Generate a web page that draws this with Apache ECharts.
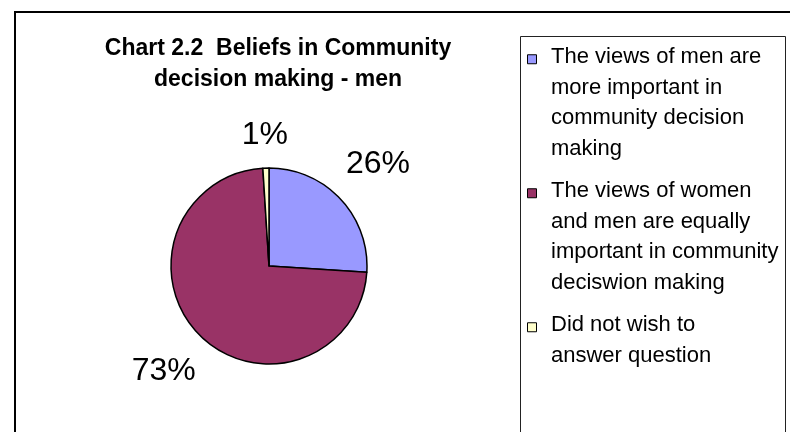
<!DOCTYPE html>
<html><head><meta charset="utf-8">
<script src="https://cdn.jsdelivr.net/npm/echarts@6/dist/echarts.min.js"></script>
<style>html,body{margin:0;padding:0;background:#fff}#c{width:790px;height:432px}</style>
</head><body><div id="c"></div>
<script>
const titleLines = ['Chart 2.2  Beliefs in Community', 'decision making - men'];
const categories = [
  'The views of men are\nmore important in\ncommunity decision\nmaking',
  'The views of women\nand men are equally\nimportant in community\ndeciswion making',
  'Did not wish to\nanswer question'
];
const values = [26, 73, 1];
const colors = ['#9999FF', '#993366', '#FFFFCC'];

const FONT = "'Liberation Sans', Arial, sans-serif";
const CX = 269, CY = 266, RADIUS = 98, LABEL_GAP = 21;
const total = values.reduce((a, b) => a + b, 0);
const mids = [];
let cum = 0;
values.forEach(v => { mids.push((cum + v / 2) / total * 2 * Math.PI); cum += v; });

function placeLabel(params) {
  const a = mids[params.dataIndex];
  const dx = Math.sin(a), dy = -Math.cos(a);
  const w = params.labelRect.width, h = 23;
  const target = RADIUS + LABEL_GAP;
  let lo = 0, hi = 400;
  for (let k = 0; k < 40; k++) {
    const t = (lo + hi) / 2;
    const px = Math.max(0, Math.abs(dx * t) - w / 2);
    const py = Math.max(0, Math.abs(dy * t) - h / 2);
    if (Math.hypot(px, py) < target) lo = t; else hi = t;
  }
  return { x: CX + dx * lo, y: CY + dy * lo, align: 'center', verticalAlign: 'middle' };
}

const LEG_X = 551, LEG_TOP = 42, LEG_LH = 30.5, LEG_GAP = 12;
const legendEls = [];
let ly = LEG_TOP;
categories.forEach((name, i) => {
  const n = name.split('\n').length;
  legendEls.push({
    type: 'rect', z: 10,
    shape: { x: 527.5, y: ly + LEG_LH / 2 - 2.5, width: 9, height: 9 },
    style: { fill: colors[i], stroke: '#000', lineWidth: 1 }
  });
  legendEls.push({
    type: 'text', z: 10, x: LEG_X, y: ly,
    style: { text: name, fontFamily: FONT, fontSize: 22, lineHeight: LEG_LH,
             fill: '#000', align: 'left', verticalAlign: 'top' }
  });
  ly += n * LEG_LH + LEG_GAP;
});

const chart = echarts.init(document.getElementById('c'), null, { renderer: 'canvas' });
chart.setOption({
  backgroundColor: '#fff',
  animation: false,
  graphic: [
    { type: 'rect', shape: { x: 15, y: 12, width: 800, height: 460 },
      style: { fill: 'none', stroke: '#000', lineWidth: 2 } },
    { type: 'rect', shape: { x: 520.5, y: 36.5, width: 265, height: 430 },
      style: { fill: 'none', stroke: '#222', lineWidth: 1 } },
    { type: 'text', x: 278, y: 33,
      style: { text: titleLines.join('\n'), fontFamily: FONT, fontSize: 23, fontWeight: 'bold',
               lineHeight: 31, fill: '#000', align: 'center', verticalAlign: 'top' } }
  ].concat(legendEls),
  series: [{
    type: 'pie',
    center: [CX, CY],
    radius: RADIUS,
    startAngle: 90,
    clockwise: true,
    avoidLabelOverlap: false,
    color: colors,
    itemStyle: { borderColor: '#000', borderWidth: 1.5 },
    label: {
      show: true, position: 'outside', formatter: '{c}%',
      fontFamily: FONT, fontSize: 32, color: '#000'
    },
    labelLine: { show: false },
    labelLayout: placeLabel,
    emphasis: { disabled: true },
    data: categories.map((name, i) => ({ name: name, value: values[i] }))
  }]
});
</script></body></html>
